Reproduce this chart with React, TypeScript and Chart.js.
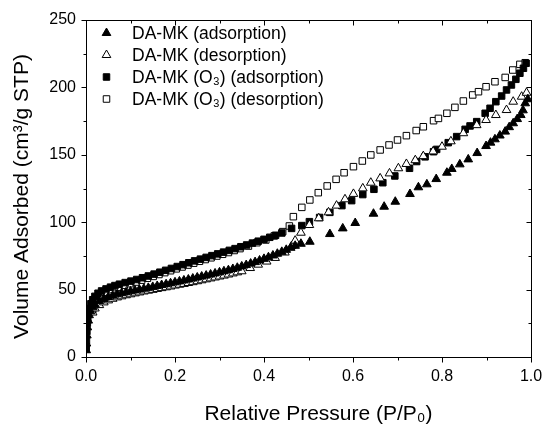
import React, { useEffect, useRef } from "react";
import { Chart, registerables } from "chart.js";
Chart.register(...registerables);

const FONT = "'Liberation Sans', Arial, Helvetica, sans-serif";

const seriesLabels = [
  "DA-MK (adsorption)",
  "DA-MK (desorption)",
  "DA-MK (O\u2083) (adsorption)",
  "DA-MK (O\u2083) (desorption)",
];

const xTitle = "Relative Pressure (P/P\u2080)";
const yTitle = "Volume Adsorbed (cm\u00B3/g STP)";

const xMajorTicks = [0, 0.2, 0.4, 0.6, 0.8, 1.0];
const xMinorTicks = [0.1, 0.3, 0.5, 0.7, 0.9];
const yMajorTicks = [0, 50, 100, 150, 200, 250];
const yMinorTicks = [25, 75, 125, 175, 225];

// DA-MK adsorption (filled triangles)
const daMkAds: [number, number][] = [
  [0.0005, 5], [0.001, 10], [0.002, 16], [0.003, 22], [0.005, 27], [0.007, 31], [0.01, 34], [0.015, 37], [0.02, 39],
  [0.03, 41.5], [0.04, 43], [0.05, 44.5], [0.06, 45.5], [0.07, 46.5], [0.08, 47.3], [0.09, 48], [0.1, 48.7],
  [0.11, 49.4], [0.12, 50], [0.13, 50.7], [0.14, 51.3], [0.15, 52], [0.16, 52.7], [0.17, 53.4], [0.18, 54], [0.19, 54.7], [0.2, 55.4],
  [0.21, 56.1], [0.22, 56.8], [0.23, 57.5], [0.24, 58.2], [0.25, 59], [0.26, 59.7], [0.27, 60.4], [0.28, 61.2], [0.29, 62], [0.3, 62.8],
  [0.31, 63.6], [0.32, 64.4], [0.33, 65.3], [0.34, 66.2], [0.35, 67.2], [0.36, 68.2], [0.37, 69.3], [0.38, 70.4], [0.39, 71.6], [0.4, 72.8],
  [0.41, 74], [0.42, 75.3], [0.43, 76.6], [0.44, 78], [0.45, 79.5], [0.46, 81], [0.47, 82.5],
  [0.483, 84], [0.503, 85.5], [0.548, 91.2], [0.577, 95.4], [0.605, 99.4], [0.646, 106.3], [0.67, 111.5], [0.695, 115.2],
  [0.728, 120.9], [0.747, 125.9], [0.766, 128.1], [0.787, 132], [0.811, 136.7], [0.822, 139.5], [0.84, 142.9], [0.859, 146.6],
  [0.879, 151.3], [0.899, 156.5], [0.909, 159], [0.919, 161.5], [0.93, 164.3], [0.942, 167.2], [0.951, 170.5], [0.96, 173.4],
  [0.969, 176.5], [0.977, 179.5], [0.982, 183], [0.987, 188.2], [0.993, 191.2],
];

// DA-MK desorption (open triangles)
const daMkDes: [number, number][] = [
  [0.015, 33], [0.02, 36], [0.03, 38.5], [0.04, 40.5], [0.05, 42], [0.06, 43.2], [0.07, 44.2], [0.08, 45], [0.09, 45.8], [0.1, 46.5],
  [0.11, 47.2], [0.12, 47.9], [0.13, 48.6], [0.14, 49.2], [0.15, 49.8], [0.16, 50.5], [0.17, 51.1], [0.18, 51.7], [0.19, 52.3], [0.2, 53],
  [0.21, 53.6], [0.22, 54.2], [0.23, 54.9], [0.24, 55.5], [0.25, 56.2], [0.26, 56.9], [0.27, 57.6], [0.28, 58.3], [0.29, 59], [0.3, 59.7],
  [0.31, 60.4], [0.32, 61.2], [0.33, 62], [0.34, 62.8], [0.35, 63.6], [0.369, 66], [0.387, 68.5], [0.406, 70.8], [0.425, 73.5],
  [0.447, 77.5], [0.462, 82.3], [0.47, 86.3], [0.483, 92.2], [0.502, 97.9], [0.523, 102.9], [0.545, 107.3], [0.563, 112.3],
  [0.582, 117], [0.601, 121], [0.622, 125.1], [0.64, 129.3], [0.661, 132.5], [0.682, 136.2], [0.702, 140], [0.72, 143.2],
  [0.74, 146], [0.758, 149], [0.78, 152.5], [0.8, 156], [0.82, 160], [0.848, 166], [0.878, 172], [0.899, 175.8], [0.921, 179.5],
  [0.945, 183.2], [0.96, 189.4], [0.979, 193.1], [0.99, 196],
];

// DA-MK (O3) adsorption (filled squares)
const o3Ads: [number, number][] = [
  [0.0005, 6], [0.001, 12], [0.002, 19], [0.003, 25], [0.004, 29], [0.006, 33], [0.008, 36], [0.011, 39.5], [0.015, 42.5], [0.02, 45],
  [0.027, 47.3], [0.035, 49], [0.045, 50.5], [0.055, 51.8], [0.065, 53], [0.075, 54], [0.088, 55.2], [0.101, 56.3], [0.114, 57.5],
  [0.127, 58.8], [0.14, 60.1], [0.153, 61.5], [0.166, 62.9], [0.179, 64.3], [0.192, 65.7], [0.205, 67.1], [0.218, 68.5], [0.231, 69.9],
  [0.244, 71.3], [0.257, 72.6], [0.27, 73.9], [0.283, 75.2], [0.296, 76.5], [0.309, 77.8], [0.322, 79.1], [0.335, 80.4], [0.348, 81.8],
  [0.361, 83.1], [0.374, 84.5], [0.387, 85.9], [0.4, 87.3], [0.413, 88.8], [0.426, 90.3], [0.44, 92], [0.462, 95.4], [0.485, 97.5],
  [0.502, 100.4], [0.525, 103.5], [0.548, 107.3], [0.575, 112.3], [0.597, 116], [0.622, 120.5], [0.647, 124.4], [0.667, 129.3],
  [0.694, 134.3], [0.727, 140], [0.743, 145], [0.762, 148.5], [0.781, 152.3], [0.788, 154], [0.814, 159], [0.833, 163.5],
  [0.852, 168.9], [0.863, 171.4], [0.878, 174.6], [0.897, 180.8], [0.908, 184.5], [0.921, 189.4], [0.934, 193.6], [0.945, 198.1],
  [0.956, 201.8], [0.966, 206], [0.975, 210.5], [0.983, 214.2], [0.989, 217.9],
];

// DA-MK (O3) desorption (open squares)
const o3Des: [number, number][] = [
  [0.015, 35], [0.02, 39], [0.025, 43.5], [0.032, 46], [0.043, 48], [0.058, 50], [0.073, 51.8], [0.086, 53.2], [0.099, 54.4],
  [0.112, 55.6], [0.125, 57], [0.138, 58.4], [0.151, 59.8], [0.164, 61.2], [0.177, 62.6], [0.19, 64], [0.203, 65.4], [0.216, 66.8],
  [0.229, 68.2], [0.242, 69.6], [0.255, 71], [0.268, 72.3], [0.281, 73.6], [0.294, 74.9], [0.307, 76.2], [0.32, 77.5], [0.333, 79],
  [0.346, 80.4], [0.365, 82.3], [0.384, 84.8], [0.404, 86.8], [0.423, 89.8], [0.442, 93], [0.457, 97.2], [0.466, 104.1], [0.485, 111],
  [0.503, 116.5], [0.522, 121.9], [0.542, 126.9], [0.562, 131.8], [0.58, 136.7], [0.601, 141.2], [0.621, 145.4], [0.64, 149.9],
  [0.661, 153.6], [0.681, 157.3], [0.7, 161], [0.72, 164.2], [0.742, 168], [0.758, 170.8], [0.781, 175.3], [0.792, 177], [0.811, 180.8],
  [0.829, 185.2], [0.848, 189.9], [0.869, 194.4], [0.882, 196.8], [0.899, 200.5], [0.919, 204.2], [0.942, 207.4], [0.959, 212.9],
  [0.975, 217.1], [0.987, 218.3],
];

const seriesData = [daMkAds, daMkDes, o3Ads, o3Des];
const seriesStyle = ["triangle", "triangle", "rect", "rect"];
const seriesFilled = [true, false, true, false];

function drawMarker(ctx: CanvasRenderingContext2D, style: string, filled: boolean, x: number, y: number, r: number) {
  ctx.beginPath();
  if (style === "triangle") {
    ctx.moveTo(x, y - r);
    ctx.lineTo(x + r * Math.sin((2 * Math.PI) / 3), y - r * Math.cos((2 * Math.PI) / 3));
    ctx.lineTo(x + r * Math.sin((4 * Math.PI) / 3), y - r * Math.cos((4 * Math.PI) / 3));
    ctx.closePath();
  } else {
    const s = r * Math.SQRT1_2;
    ctx.rect(x - s, y - s, 2 * s, 2 * s);
  }
  ctx.fillStyle = filled ? "#000" : "#fff";
  ctx.fill();
  ctx.lineWidth = 1;
  ctx.strokeStyle = "#000";
  ctx.stroke();
}

const framePlugin = {
  id: "frameTicks",
  afterDatasetsDraw(chart: any) {
    const { ctx, chartArea: a, scales } = chart;
    const xs = scales.x;
    const ys = scales.y;
    const L = Math.round(a.left) + 0.5;
    const R = Math.round(a.right) + 0.5;
    const T = Math.round(a.top) + 0.5;
    const B = Math.round(a.bottom) + 0.5;
    ctx.save();
    ctx.strokeStyle = "#000";
    ctx.lineWidth = 1;
    ctx.strokeRect(L, T, R - L, B - T);
    ctx.beginPath();
    const xt = (v: number, len: number) => {
      const px = Math.round(xs.getPixelForValue(v)) + 0.5;
      ctx.moveTo(px, B);
      ctx.lineTo(px, B + len);
      ctx.moveTo(px, T);
      ctx.lineTo(px, T + len);
    };
    const yt = (v: number, len: number) => {
      const py = Math.round(ys.getPixelForValue(v)) + 0.5;
      ctx.moveTo(L, py);
      ctx.lineTo(L - len, py);
      ctx.moveTo(R, py);
      ctx.lineTo(R - len, py);
    };
    xMajorTicks.forEach((v) => xt(v, 5));
    xMinorTicks.forEach((v) => xt(v, 3));
    yMajorTicks.forEach((v) => yt(v, 5));
    yMinorTicks.forEach((v) => yt(v, 3));
    ctx.stroke();

    // axis titles
    ctx.fillStyle = "#000";
    ctx.font = `21px ${FONT}`;
    ctx.textAlign = "center";
    ctx.textBaseline = "middle";
    ctx.fillText(xTitle, (a.left + a.right) / 2 + 10, a.bottom + 57);
    ctx.save();
    ctx.translate(22, (a.top + a.bottom) / 2 + 8);
    ctx.rotate(-Math.PI / 2);
    ctx.fillText(yTitle, 0, 0);
    ctx.restore();
    ctx.restore();
  },
};

const legendPlugin = {
  id: "insideLegend",
  afterDraw(chart: any) {
    const { ctx, chartArea: a } = chart;
    ctx.save();
    chart.data.datasets.forEach((ds: any, i: number) => {
      const cy = a.top + 13 + i * 22;
      drawMarker(ctx, seriesStyle[i], seriesFilled[i], a.left + 20.5, cy, seriesStyle[i] === "triangle" ? 5 : 4.6);
      ctx.fillStyle = "#000";
      ctx.font = `17.5px ${FONT}`;
      ctx.textBaseline = "middle";
      ctx.textAlign = "left";
      ctx.fillText(ds.label, a.left + 46, cy + 1);
    });
    ctx.restore();
  },
};

export default function App() {
  const ref = useRef<HTMLCanvasElement | null>(null);
  useEffect(() => {
    if (!ref.current) return;
    const datasets = seriesData.map((d, i) => ({
      label: seriesLabels[i],
      data: d.map(([x, y]) => ({ x, y })),
      showLine: false,
      pointStyle: seriesStyle[i],
      pointRadius: seriesStyle[i] === "triangle" ? 5 : 4.6,
      pointBorderWidth: 1,
      pointBorderColor: "#000",
      pointBackgroundColor: seriesFilled[i] ? "#000" : "#fff",
      order: i,
    }));
    const chart = new Chart(ref.current, {
      type: "scatter",
      data: { datasets },
      plugins: [framePlugin, legendPlugin],
      options: {
        animation: false,
        responsive: false,
        events: [],
        layout: { padding: { top: 20, right: 12, left: 0, bottom: 0 } },
        plugins: { legend: { display: false }, tooltip: { enabled: false } },
        scales: {
          x: {
            type: "linear",
            min: 0,
            max: 1,
            grid: { display: false, drawTicks: false },
            border: { display: false },
            afterFit: (s: any) => {
              s.height = 70;
              s.paddingLeft = 0;
              s.paddingRight = 0;
            },
            afterBuildTicks: (s: any) => {
              s.ticks = xMajorTicks.map((v) => ({ value: v }));
            },
            ticks: {
              color: "#000",
              padding: 10,
              font: { family: FONT, size: 16 },
              callback: (v: any) => Number(v).toFixed(1),
            },
            title: { display: false },
          },
          y: {
            type: "linear",
            min: 0,
            max: 250,
            grid: { display: false, drawTicks: false },
            border: { display: false },
            afterFit: (s: any) => {
              s.width = 86;
              s.paddingTop = 0;
              s.paddingBottom = 0;
            },
            afterBuildTicks: (s: any) => {
              s.ticks = yMajorTicks.map((v) => ({ value: v }));
            },
            ticks: {
              color: "#000",
              padding: 10,
              font: { family: FONT, size: 16 },
              callback: (v: any) => String(v),
            },
            title: { display: false },
          },
        },
      },
    } as any);
    return () => chart.destroy();
  }, []);
  return (
    <div style={{ position: "absolute", left: 0, top: 0, width: 543, height: 427, background: "#fff" }}>
      <canvas ref={ref} width={543} height={427} style={{ display: "block", width: 543, height: 427 }} />
    </div>
  );
}
